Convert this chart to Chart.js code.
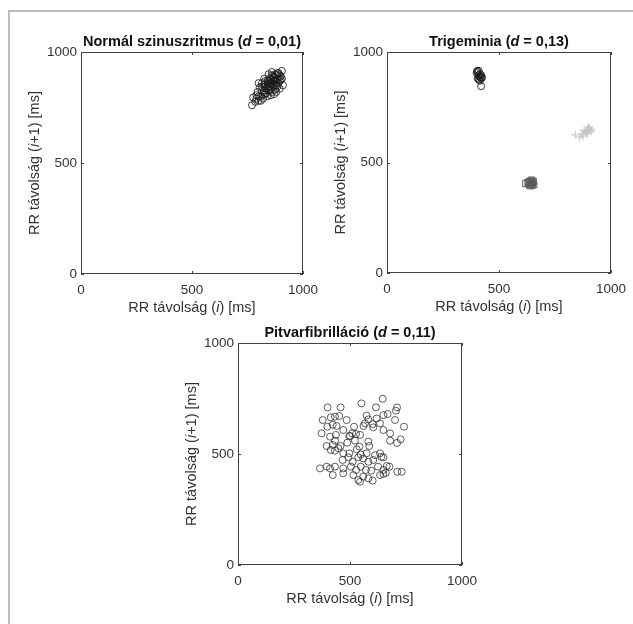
<!DOCTYPE html>
<html>
<head>
<meta charset="utf-8">
<script src="https://cdn.jsdelivr.net/npm/chart.js@4.4.0/dist/chart.umd.min.js"></script>
<style>
	body { margin: 0; background: #fff; width: 633px; height: 624px; overflow: hidden; position: relative; }
	#frame { position: absolute; left: 8px; top: 10px; width: 700px; height: 700px; border-left: 2px solid #bdbdbd; border-top: 2px solid #bdbdbd; }
	canvas { position: absolute; }
</style>
</head>
<body>
<div id="frame"></div>
<canvas id="sinus" width="320" height="300" style="left:10px;top:20px"></canvas>
<canvas id="trig" width="317" height="300" style="left:316px;top:20px"></canvas>
<canvas id="afib" width="330" height="305" style="left:165px;top:311px"></canvas>
<script>
// RR(i), RR(i+1) pairs in ms
const sinusPoints = [
	[775,795],[770,760],[785,775],[790,805],[800,780],[795,820],[805,840],[810,800],[815,825],[820,790],
	[825,855],[830,810],[835,835],[840,870],[840,800],[845,845],[850,825],[850,880],[855,860],[860,840],
	[860,895],[865,870],[870,850],[870,885],[875,830],[875,900],[880,865],[885,880],[885,845],[890,905],
	[895,870],[900,890],[905,915],[910,850],[815,860],[825,880],[845,900],[860,820],[880,820],[800,860],
	[830,845],[850,860],[865,855],[855,875],[845,870],[870,870],[880,895],[890,860],[900,875],[835,815],
	[820,810],[810,780],[800,800],[790,790],[855,805],[870,810],[895,835],[905,880],[840,855],[825,825],
	[860,910],[845,830],[875,875],[865,890],[880,850],[815,845],[830,870],[850,845],[885,905],[895,895]
];
const trigCircles = [
	[405,910],[410,915],[400,905],[415,900],[408,895],[412,890],[418,885],[405,880],
	[420,895],[410,875],[415,870],[402,915],[420,880],[425,885],[420,845]
];
const trigSquares = [
	[620,405],[630,410],[635,400],[640,415],[645,405],[650,410],[640,395],[655,400],
	[645,420],[635,412],[648,398],[652,415]
];
const trigPlus = [
	[840,625],[870,630],[880,645],[890,640],[895,650],[900,645],[905,655],[910,640],
	[895,630],[885,635],[900,660],[915,648],[875,620],[860,615]
];
const afibPoints = [
	[400,710],[458,710],[551,728],[646,749],[616,710],[710,710],[705,695],[378,653],[414,665],[433,668],
	[452,671],[485,653],[574,673],[582,656],[619,660],[649,675],[668,680],[701,653],[399,623],[423,632],
	[440,626],[470,608],[518,623],[560,626],[567,638],[601,635],[634,638],[649,608],[741,623],[373,593],
	[411,578],[437,586],[497,581],[510,593],[527,590],[545,586],[604,620],[679,593],[726,566],[396,536],
	[423,541],[433,560],[458,536],[488,551],[500,581],[522,560],[542,533],[582,556],[586,536],[679,560],
	[710,550],[414,518],[433,515],[448,526],[470,503],[497,503],[530,521],[548,498],[574,503],[612,495],
	[634,503],[649,485],[467,473],[493,485],[512,465],[537,485],[559,480],[582,465],[604,473],[640,487],
	[366,435],[396,443],[411,435],[433,443],[470,435],[504,443],[527,428],[548,443],[571,428],[595,425],
	[625,443],[649,428],[664,446],[676,443],[711,420],[731,420],[423,405],[470,413],[515,405],[537,383],
	[545,375],[559,398],[582,390],[601,380],[634,405],[649,410],[660,415]
];
const tickValues = [0, 500, 1000];

const FONT = "'Liberation Sans', Arial, sans-serif";
const xTitle = [{ t: 'RR távolság (' }, { t: 'i', i: true }, { t: ') [ms]' }];
const yTitle = [{ t: 'RR távolság (' }, { t: 'i', i: true }, { t: '+1) [ms]' }];

function drawRich(ctx, segs, x, y, bold) {
	const w = bold ? 'bold ' : '';
	const fontOf = s => `${s.i ? 'italic ' : ''}${w}14.5px ${FONT}`;
	let total = 0;
	segs.forEach(s => { ctx.font = fontOf(s); total += ctx.measureText(s.t).width; });
	let cx = x - total / 2;
	ctx.textBaseline = 'middle';
	ctx.textAlign = 'left';
	segs.forEach(s => {
		ctx.font = fontOf(s);
		ctx.fillText(s.t, cx, y);
		cx += ctx.measureText(s.t).width;
	});
}

// box with inward ticks, plus the mixed italic titles
const boxAndLabels = {
	id: 'boxAndLabels',
	afterDraw(chart, args, opts) {
		const { ctx, chartArea: a, scales } = chart;
		ctx.save();
		ctx.strokeStyle = '#404040';
		ctx.lineWidth = 1;
		ctx.strokeRect(a.left + 0.5, a.top + 0.5, a.width - 1, a.height - 1);
		ctx.beginPath();
		tickValues.forEach(v => {
			const x = Math.round(scales.x.getPixelForValue(v)) + 0.5;
			const y = Math.round(scales.y.getPixelForValue(v)) + 0.5;
			ctx.moveTo(x, a.bottom); ctx.lineTo(x, a.bottom - 3);
			ctx.moveTo(x, a.top); ctx.lineTo(x, a.top + 3);
			ctx.moveTo(a.left, y); ctx.lineTo(a.left + 3, y);
			ctx.moveTo(a.right, y); ctx.lineTo(a.right - 3, y);
		});
		ctx.stroke();
		ctx.fillStyle = '#111';
		drawRich(ctx, opts.title, (a.left + a.right) / 2, a.top - 10, true);
		ctx.fillStyle = '#333';
		drawRich(ctx, xTitle, (a.left + a.right) / 2, a.bottom + 34, false);
		ctx.translate(a.left - 46, (a.top + a.bottom) / 2);
		ctx.rotate(-Math.PI / 2);
		drawRich(ctx, yTitle, 0, 0, false);
		ctx.restore();
	}
};

function axis(size, isX) {
	return {
		type: 'linear',
		min: 0,
		max: 1000,
		afterBuildTicks: s => { s.ticks = tickValues.map(v => ({ value: v })); },
		afterFit: s => {
			if (isX) s.height = size; else s.width = size;
			// let the end labels hang over the padding, like the original
			s.paddingLeft = s.paddingRight = s.paddingTop = s.paddingBottom = 0;
		},
		grid: { display: false, drawTicks: false },
		border: { display: false },
		ticks: {
			padding: isX ? 8 : 4,
			color: '#333',
			font: { family: FONT, size: 13.5 },
			callback: v => String(v)
		}
	};
}

function toXY(pts) {
	return pts.map(p => ({ x: p[0], y: p[1] }));
}

function makeChart(id, datasets, title, yw, xh, pad) {
	return new Chart(document.getElementById(id), {
		type: 'scatter',
		data: { datasets },
		options: {
			responsive: false,
			animation: false,
			layout: { padding: pad },
			scales: { x: axis(xh, true), y: axis(yw, false) },
			plugins: {
				legend: { display: false },
				tooltip: { enabled: false },
				boxAndLabels: { title }
			}
		},
		plugins: [boxAndLabels]
	});
}

const circle = (pts, color) => ({
	data: toXY(pts), pointStyle: 'circle', pointRadius: 3.5,
	borderColor: color, backgroundColor: 'transparent', borderWidth: 1
});

makeChart('sinus', [circle(sinusPoints, 'rgba(20,20,20,0.8)')],
	[{ t: 'Normál szinuszritmus (' }, { t: 'd', i: true }, { t: ' = 0,01)' }],
	71, 46, { top: 32, right: 27, left: 0, bottom: 0 });

makeChart('trig', [
	circle(trigCircles, 'rgba(20,20,20,0.85)'),
	{ data: toXY(trigSquares), pointStyle: 'rect', pointRadius: 4.5, borderColor: '#5a5a5a', backgroundColor: 'transparent', borderWidth: 1 },
	{ data: toXY(trigPlus), pointStyle: 'cross', pointRadius: 4, borderColor: '#c4c4c4', borderWidth: 1 }
], [{ t: 'Trigeminia (' }, { t: 'd', i: true }, { t: ' = 0,13)' }],
	71, 47, { top: 32, right: 22, left: 0, bottom: 0 });

makeChart('afib', [circle(afibPoints, 'rgba(40,40,40,0.75)')],
	[{ t: 'Pitvarfibrilláció (' }, { t: 'd', i: true }, { t: ' = 0,11)' }],
	73, 51, { top: 32, right: 33, left: 0, bottom: 0 });
</script>
</body>
</html>
